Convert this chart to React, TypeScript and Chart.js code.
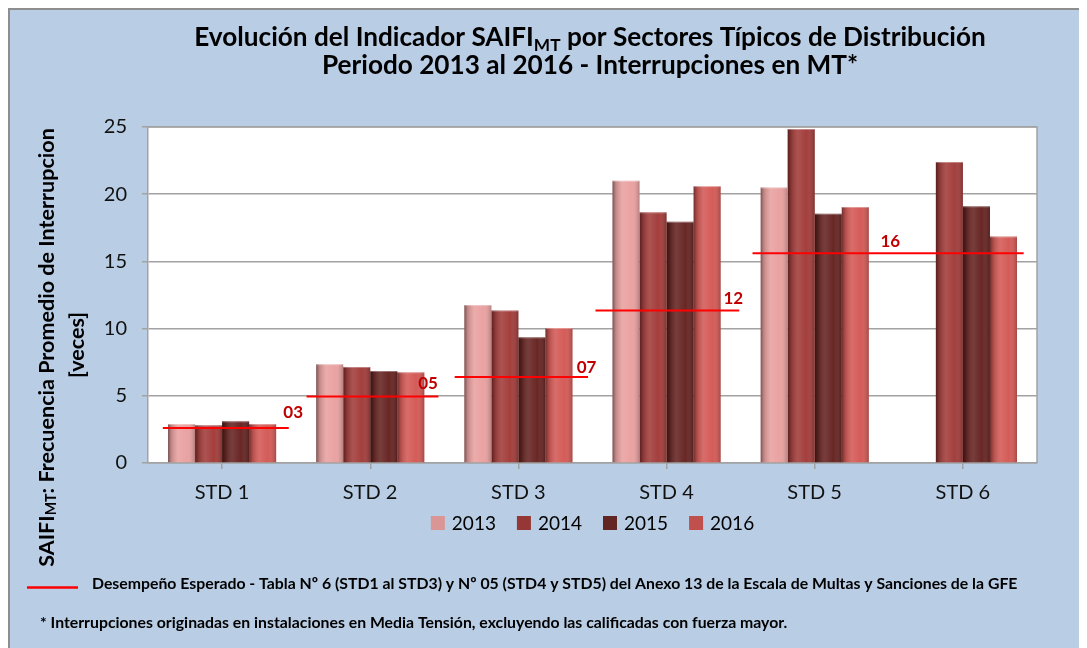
import React, { useEffect, useRef } from 'react';
import { Chart, registerables } from 'chart.js';

Chart.register(...registerables);

// ---------- data ----------
const categories = ['STD 1', 'STD 2', 'STD 3', 'STD 4', 'STD 5', 'STD 6'];
const years = ['2013', '2014', '2015', '2016'];
const values2013 = [2.9, 7.35, 11.75, 21.0, 20.5, null];
const values2014 = [2.8, 7.15, 11.35, 18.65, 24.85, 22.4];
const values2015 = [3.1, 6.85, 9.35, 17.95, 18.55, 19.1];
const values2016 = [2.9, 6.75, 10.05, 20.6, 19.05, 16.85];
const seriesValues = [values2013, values2014, values2015, values2016];

// expected-performance reference lines (x in category units, y in axis units)
const refLabels = ['03', '05', '07', '12', '16'];
const refValues = [2.6, 4.95, 6.4, 11.35, 15.6];
const refStart = [-0.4, 0.57, 1.57, 2.52, 3.58];
const refEnd = [0.45, 1.46, 2.47, 3.49, 5.41];
const refLabelX = [0.48, 1.39, 2.46, 3.45, 4.51];
const refLabelY = [3.33, 5.48, 6.72, 11.83, 16.09];

const yMin = 0;
const yMax = 25;
const yStep = 5;

// ---------- style ----------
const FONT = "Lato, 'Open Sans', 'DejaVu Sans', sans-serif";
const barColors = ['#E9A2A1', '#A33F3D', '#682725', '#D45C58'];
const legendColors = ['#D99694', '#953735', '#632523', '#C0504D'];
const GRID = '#A2A2A2';
const BG = '#B9CDE5';

type Seg = { text: string; sub?: boolean };

function richWidth(ctx: CanvasRenderingContext2D, segs: Seg[], size: number) {
  let w = 0;
  for (const s of segs) {
    ctx.font = `bold ${s.sub ? size * 0.66 : size}px ${FONT}`;
    w += ctx.measureText(s.text).width;
  }
  return w;
}

function drawRich(
  ctx: CanvasRenderingContext2D,
  segs: Seg[],
  x: number,
  y: number,
  size: number,
  align: 'left' | 'center'
) {
  const total = richWidth(ctx, segs, size);
  let cx = align === 'center' ? x - total / 2 : x;
  ctx.textAlign = 'left';
  for (const s of segs) {
    const sz = s.sub ? size * 0.66 : size;
    ctx.font = `bold ${sz}px ${FONT}`;
    ctx.fillText(s.text, cx, s.sub ? y + size * 0.22 : y);
    cx += ctx.measureText(s.text).width;
  }
}

function fitSize(ctx: CanvasRenderingContext2D, segs: Seg[], target: number, base: number) {
  const w = richWidth(ctx, segs, base);
  return (base * target) / w;
}

const title1: Seg[] = [
  { text: 'Evolución del Indicador SAIFI' },
  { text: 'MT', sub: true },
  { text: ' por Sectores Típicos de Distribución' },
];
const title2: Seg[] = [{ text: 'Periodo 2013 al 2016 - Interrupciones en MT*' }];
const yTitle1: Seg[] = [
  { text: 'SAIFI' },
  { text: 'MT', sub: true },
  { text: ': Frecuencia Promedio de Interrupcion' },
];
const yTitle2: Seg[] = [{ text: '[veces]' }];
const note1: Seg[] = [
  {
    text: 'Desempeño Esperado - Tabla Nº 6 (STD1 al STD3) y Nº 05 (STD4 y STD5) del Anexo 13 de la Escala de Multas y Sanciones de la GFE',
  },
];
const note2: Seg[] = [
  { text: '* Interrupciones originadas en instalaciones en Media Tensión, excluyendo las calificadas con fuerza mayor.' },
];

const decorPlugin = {
  id: 'decor',
  beforeDraw(chart: any) {
    const { ctx, width, height, chartArea } = chart;
    ctx.save();
    ctx.fillStyle = BG;
    ctx.fillRect(0, 0, width, height);
    ctx.fillStyle = '#8E8E8E';
    ctx.fillRect(0, 0, width, 2);
    ctx.fillRect(0, 0, 2, height);
    ctx.fillStyle = '#FFFFFF';
    ctx.fillRect(chartArea.left, chartArea.top, chartArea.right - chartArea.left, chartArea.bottom - chartArea.top);
    ctx.restore();
  },
  beforeDatasetsDraw(chart: any) {
    const { ctx, chartArea } = chart;
    ctx.save();
    ctx.strokeStyle = GRID;
    ctx.lineWidth = 1.5;
    ctx.beginPath();
    ctx.moveTo(chartArea.left, chartArea.top);
    ctx.lineTo(chartArea.right, chartArea.top);
    ctx.lineTo(chartArea.right, chartArea.bottom);
    ctx.stroke();
    ctx.restore();
  },
  afterDatasetDraw(chart: any, args: any) {
    const meta = args.meta;
    if (meta.type !== 'bar') return;
    const ctx: CanvasRenderingContext2D = chart.ctx;
    ctx.save();
    for (const el of meta.data) {
      if (el.skip || el.y == null || isNaN(el.y)) continue;
      const w = el.width;
      const x0 = el.x - w / 2;
      const top = Math.min(el.y, el.base);
      const h = Math.abs(el.base - el.y);
      if (!(h > 0)) continue;
      const g = ctx.createLinearGradient(x0, 0, x0 + w, 0);
      g.addColorStop(0, 'rgba(0,0,0,0.48)');
      g.addColorStop(0.12, 'rgba(0,0,0,0.18)');
      g.addColorStop(0.38, 'rgba(255,255,255,0.10)');
      g.addColorStop(0.7, 'rgba(255,255,255,0.0)');
      g.addColorStop(1, 'rgba(0,0,0,0.22)');
      ctx.fillStyle = g;
      ctx.fillRect(x0, top, w, h);
      ctx.fillStyle = 'rgba(255,255,255,0.35)';
      ctx.fillRect(x0, top, w, 1);
    }
    ctx.restore();
  },
  afterDraw(chart: any) {
    const ctx: CanvasRenderingContext2D = chart.ctx;
    const xs = chart.scales.x;
    const y = chart.scales.y;
    const area = chart.chartArea;
    ctx.save();

    // reference labels
    ctx.fillStyle = '#C00000';
    ctx.font = `bold 17px ${FONT}`;
    ctx.textAlign = 'center';
    ctx.textBaseline = 'alphabetic';
    refLabels.forEach((t, i) => {
      ctx.fillText(t, xs.getPixelForValue(refLabelX[i]), y.getPixelForValue(refLabelY[i]));
    });

    // title
    ctx.fillStyle = '#000000';
    ctx.textBaseline = 'alphabetic';
    const ts = fitSize(ctx, title1, 792, 24);
    drawRich(ctx, title1, 582, 37.5, ts, 'center');
    drawRich(ctx, title2, 582, 66, ts, 'center');

    // y-axis title
    ctx.textBaseline = 'middle';
    const ys = fitSize(ctx, yTitle1, 439, 20);
    ctx.save();
    ctx.translate(39, 339.5);
    ctx.rotate(-Math.PI / 2);
    drawRich(ctx, yTitle1, 0, 0, ys, 'center');
    ctx.restore();
    ctx.save();
    ctx.translate(69, 337);
    ctx.rotate(-Math.PI / 2);
    drawRich(ctx, yTitle2, 0, 0, ys, 'center');
    ctx.restore();

    // legend
    ctx.font = `19px ${FONT}`;
    ctx.textBaseline = 'middle';
    ctx.textAlign = 'left';
    const box = 14;
    const gapText = 7;
    const gapItem = 21;
    const widths = years.map((t) => ctx.measureText(t).width);
    const total = widths.reduce((a, b) => a + b + box + gapText, 0) + gapItem * (years.length - 1);
    let lx = (area.left + area.right) / 2 - total / 2;
    const ly = 515;
    years.forEach((t, i) => {
      ctx.fillStyle = legendColors[i];
      ctx.fillRect(lx, ly - box / 2, box, box);
      ctx.fillStyle = '#000000';
      ctx.fillText(t, lx + box + gapText, ly + 1);
      lx += box + gapText + widths[i] + gapItem;
    });

    // notes
    ctx.strokeStyle = '#FF0000';
    ctx.lineWidth = 2.5;
    ctx.beginPath();
    ctx.moveTo(19, 579.5);
    ctx.lineTo(70, 579.5);
    ctx.stroke();
    ctx.fillStyle = '#000000';
    ctx.textBaseline = 'middle';
    const ns = fitSize(ctx, note1, 926, 14);
    drawRich(ctx, note1, 84, 576, ns, 'left');
    drawRich(ctx, note2, 32, 615, ns, 'left');

    ctx.restore();
  },
};

// category boundaries on the numeric x axis (-0.5, 0.5, ... n-0.5)
const boundaries = categories.map((_, i) => i - 0.5).concat([categories.length - 0.5]);

export default function App() {
  const ref = useRef<HTMLCanvasElement | null>(null);

  useEffect(() => {
    document.documentElement.style.overflow = 'hidden';
    const canvas = ref.current;
    if (!canvas) return;

    const barSets = seriesValues.map((vals, i) => ({
      type: 'bar' as const,
      label: years[i],
      data: vals.map((v, j) => ({ x: j, y: v })),
      backgroundColor: barColors[i],
      borderWidth: 0,
      categoryPercentage: 0.73,
      barPercentage: 1.0,
      order: 1,
    }));
    const lineSets = refValues.map((v, i) => ({
      type: 'line' as const,
      label: 'ref ' + refLabels[i],
      data: [
        { x: refStart[i], y: v },
        { x: refEnd[i], y: v },
      ],
      borderColor: '#FF0000',
      borderWidth: 2,
      pointRadius: 0,
      fill: false,
      order: 0,
    }));

    const chart = new Chart(canvas, {
      type: 'bar',
      data: { datasets: [...barSets, ...lineSets] as any },
      options: {
        responsive: false,
        animation: false,
        layout: { padding: { left: 80, right: 50, top: 119, bottom: 140 } },
        plugins: {
          legend: { display: false },
          title: { display: false },
          tooltip: { enabled: false },
        },
        scales: {
          x: {
            type: 'linear',
            min: -0.5,
            max: categories.length - 0.5,
            offset: false,
            afterBuildTicks: (s: any) => {
              s.ticks = boundaries.map((v) => ({ value: v }));
            },
            grid: {
              display: true,
              drawOnChartArea: false,
              drawTicks: true,
              tickLength: 6,
              color: GRID,
              lineWidth: 1.5,
            },
            border: { display: true, color: GRID, width: 1.5 },
            ticks: {
              autoSkip: false,
              font: { family: FONT, size: 20 },
              color: '#111111',
              padding: 12,
              maxRotation: 0,
              labelOffset: 74,
              callback: (v: any) => categories[Math.round(Number(v) + 0.5)] ?? '',
            },
            afterFit: (s: any) => {
              s.height = 45;
            },
          },
          y: {
            type: 'linear',
            min: yMin,
            max: yMax,
            ticks: { stepSize: yStep, font: { family: FONT, size: 20 }, color: '#111111', padding: 15 },
            grid: { color: GRID, lineWidth: 1.5, tickLength: 6 },
            border: { display: true, color: GRID, width: 1.5 },
            afterFit: (s: any) => {
              s.width = 60;
            },
          },
        } as any,
      },
      plugins: [decorPlugin],
    });

    return () => chart.destroy();
  }, []);

  return <canvas ref={ref} width={1079} height={640} style={{ display: 'block', width: 1079, height: 640 }} />;
}
